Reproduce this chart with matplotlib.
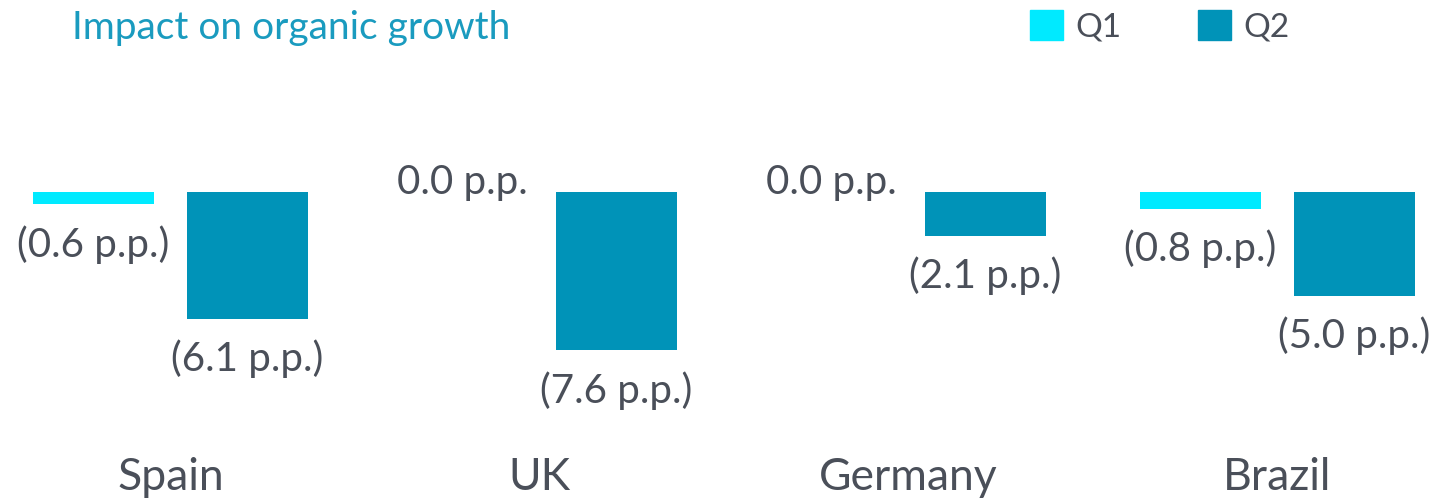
import matplotlib.pyplot as plt
from matplotlib.patches import Patch
import numpy as np

plt.rcParams['font.family'] = ['Lato', 'DejaVu Sans']

countries = ['Spain', 'UK', 'Germany', 'Brazil']
q1 = [-0.6, 0.0, 0.0, -0.8]
q2 = [-6.1, -7.6, -2.1, -5.0]

c_q1 = '#00EAFF'
c_q2 = '#0093B8'
c_text = '#4A4F59'
c_title = '#1A9BBF'

fig = plt.figure(figsize=(14.33, 4.99), dpi=100)
ax = fig.add_axes([0, 0, 1, 1])

x = np.arange(len(countries))
w = 0.328
off = 0.2087

ax.bar(x - off, q1, w, color=c_q1)
ax.bar(x + off, q2, w, color=c_q2)


def fmt(v):
    if v < 0:
        return '(%.1f p.p.)' % abs(v)
    return '%.1f p.p.' % v


for xs, vals in [(x - off, q1), (x + off, q2)]:
    for xi, v in zip(xs, vals):
        if v < 0:
            ax.annotate(fmt(v), (xi, v), xytext=(0, -15), textcoords='offset points',
                        ha='center', va='top', fontsize=29, color=c_text)
        else:
            ax.annotate(fmt(v), (xi, v), xytext=(0, 7), textcoords='offset points',
                        ha='center', va='center', fontsize=29, color=c_text)

for xi, name in zip(x, countries):
    ax.text(xi, -13.75, name, ha='center', va='center', fontsize=32, color=c_text)

ax.set_xlim(-170.5 / 369, (1433 - 170.5) / 369)
ax.set_ylim(-(499 - 192) / 20.8, 192 / 20.8)
ax.axis('off')

fig.text(72 / 1433, 1 - 28 / 499, 'Impact on organic growth', fontsize=28,
         color=c_title, ha='left', va='center')

handles = [Patch(color=c_q1, label='Q1'), Patch(color=c_q2, label='Q2')]
fig.legend(handles=handles, loc='upper left', bbox_to_anchor=(1030 / 1433, 1 - 10 / 499),
           ncol=2, frameon=False, fontsize=24, handlelength=1.0, handleheight=1.0,
           handletextpad=0.36, columnspacing=2.3, borderpad=0, borderaxespad=0,
           labelcolor=c_text)

fig.savefig('out.png', dpi=100)
